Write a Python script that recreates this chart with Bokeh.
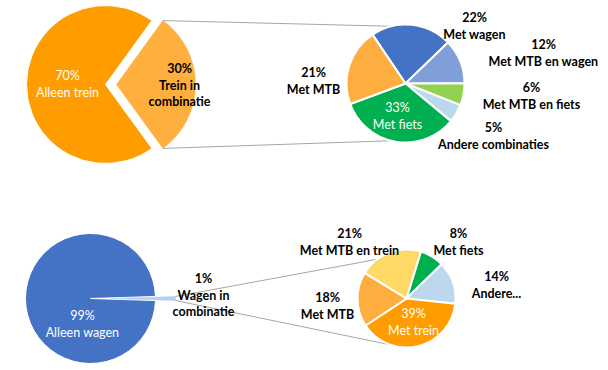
import math
from bokeh.plotting import figure
from bokeh.models import Range1d
from bokeh.embed import file_html
from bokeh.resources import INLINE
from bokeh.core.properties import value

# ---------------- data ----------------
top_main_names = ["Alleen trein", "Trein in\ncombinatie"]
top_main_values = [70, 30]

top_sub_names = ["Met wagen", "Met MTB en wagen", "Met MTB en fiets",
                 "Andere combinaties", "Met fiets", "Met MTB"]
top_sub_values = [22, 12, 6, 5, 33, 21]

bot_main_names = ["Alleen wagen", "Wagen in\ncombinatie"]
bot_main_values = [99, 1]

bot_sub_names = ["Met fiets", "Andere...", "Met trein", "Met MTB", "Met MTB en trein"]
bot_sub_values = [8, 14, 39, 18, 21]

# ---------------- styles / layout ----------------
top_main_colors = ["#FF9C00", "#FFAF3E"]
top_sub_colors = ["#4472C4", "#809FD9", "#92D050", "#BDD7EE", "#00B050", "#FDAE3E"]
bot_main_colors = ["#4472C4", "#B4D0EC"]
bot_sub_colors = ["#00B050", "#BDD7EE", "#FF9C00", "#FDAE3E", "#FFD966"]

# label anchor (screen px: x centre, y of first line) and colour
top_main_lab = [(67, 75, "white"), (179, 68, "black")]
top_sub_lab = [(474, 17, "black"), (543, 44, "black"), (531, 87, "black"),
               (493, 127, "black"), (397, 107, "white"), (313, 72, "black")]
bot_main_lab = [(82, 315, "white"), (203, 278, "black")]
bot_sub_lab = [(458, 233, "black"), (496, 276, "black"), (413, 313, "white"),
               (327, 297, "black"), (349, 233, "black")]

FONT = "Lato"
FS = "12.5px"
LINE = 16.5


def sy(y):
    return 370 - y


p = figure(width=606, height=366, x_range=Range1d(0, 606), y_range=Range1d(4, 370),
           output_backend="svg", toolbar_location=None,
           x_axis_type=None, y_axis_type=None, min_border=0)
p.grid.visible = False
p.outline_line_color = None
p.background_fill_color = "white"

R = math.radians


def main_pie(cx, cy, r, values, colors, explode):
    """Big pie: second slice exploded, centred on the +x direction."""
    half = values[1] / sum(values) * 180.0
    p.wedge(x=cx, y=sy(cy), radius=r, start_angle=R(half), end_angle=R(360 - half),
            fill_color=colors[0], line_color="white", line_width=1)
    ex = cx + explode
    p.wedge(x=ex, y=sy(cy), radius=r, start_angle=R(-half), end_angle=R(half),
            fill_color=colors[1], line_color=colors[1], line_width=0.5)
    a = R(half)
    return (ex + r * math.cos(a), sy(cy) + r * math.sin(a)), (ex + r * math.cos(a), sy(cy) - r * math.sin(a))


def sub_pie(cx, cy, r, values, colors, start_cw):
    tot = float(sum(values))
    th = start_cw
    for v, c in zip(values, colors):
        span = v / tot * 360.0
        p.wedge(x=cx, y=sy(cy), radius=r, start_angle=R(90 - (th + span)), end_angle=R(90 - th),
                fill_color=c, line_color="white", line_width=2)
        th += span


def pt(cx, cy, r, ang):
    a = R(ang)
    return cx + r * math.cos(a), sy(cy) + r * math.sin(a)


def labels(names, values, lab):
    xs, ys, ts, cs, fw = [], [], [], [], []
    for n, v, (x, y, col) in zip(names, values, lab):
        lines = [f"{v}%"] + n.split("\n")
        for i, t in enumerate(lines):
            xs.append(x)
            ys.append(sy(y + i * LINE))
            ts.append(t)
            cs.append(col)
            fw.append("normal" if col == "white" else "bold")
    for weight in ("bold", "normal"):
        idx = [i for i in range(len(ts)) if fw[i] == weight]
        if not idx:
            continue
        p.text(x=[xs[i] for i in idx], y=[ys[i] for i in idx], text=[ts[i] for i in idx],
               text_color=[cs[i] for i in idx], text_font=value(FONT), text_font_size=FS,
               text_font_style=weight, text_align="center", text_baseline="middle")


LINE_COL = "#A6A6A6"

# ---- top group ----
c_top, c_bot = main_pie(105, 84, 79, top_main_values, top_main_colors, 11)
t1 = pt(405, 83, 59, 104)
t2 = pt(405, 83, 59, -104)
p.line([c_top[0], t1[0]], [c_top[1], t1[1]], line_color=LINE_COL, line_width=1)
p.line([c_bot[0], t2[0]], [c_bot[1], t2[1]], line_color=LINE_COL, line_width=1)
sub_pie(405, 83, 59, top_sub_values, top_sub_colors, -34)

# ---- bottom group ----
b_top, b_bot = main_pie(90, 298, 65, bot_main_values, bot_main_colors, 20)
u1 = pt(406, 298, 49, 127)
u2 = pt(406, 298, 49, -109)
p.line([b_top[0], u1[0]], [b_top[1], u1[1]], line_color=LINE_COL, line_width=1)
p.line([b_bot[0], u2[0]], [b_bot[1], u2[1]], line_color=LINE_COL, line_width=1)
sub_pie(406, 298, 49, bot_sub_values, bot_sub_colors, 17)

labels(top_main_names, top_main_values, top_main_lab)
labels(top_sub_names, top_sub_values, top_sub_lab)
labels(bot_main_names, bot_main_values, bot_main_lab)
labels(bot_sub_names, bot_sub_values, bot_sub_lab)

open("out.html", "w").write(file_html(p, INLINE))
